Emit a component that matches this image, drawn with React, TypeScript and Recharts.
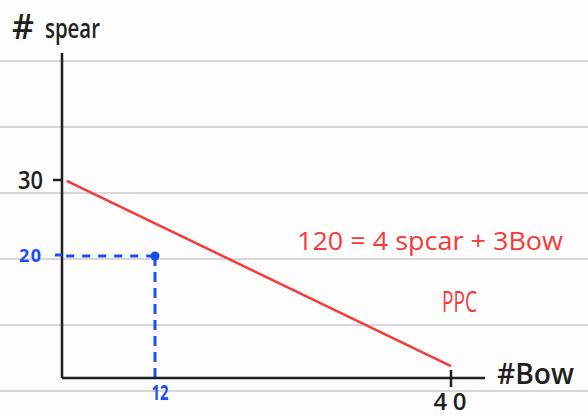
import React from "react";
import { ComposedChart, Line, Scatter, XAxis, YAxis, ReferenceLine } from "recharts";

// PPC endpoints as drawn (hand sketch, axes anchored on the labelled ticks)
const ppcLine = [
  { x: 3.65, y: 29.9 },
  { x: 40, y: 5.5 },
];
const chosenPoint = [{ x: 12, y: 20 }];
const xTicks = [12, 40];
const yTicks = [20, 30];
const xDomain: [number, number] = [3.203, 43.217];
const yDomain: [number, number] = [3.947, 46.71];
const paperLines = [61, 127, 193, 259, 325, 391];

const RED = "#f63a3a";
const BLUE = "#1c4ff0";
const INK = "#1f1f1f";
const FONT = "'Open Sans', 'DejaVu Sans', sans-serif";

const XTick = (props: any) => {
  const { x, y, payload } = props;
  if (payload.value === 12) {
    return (
      <text x={x + 5} y={y + 22} textAnchor="middle" fill={BLUE} fontFamily={FONT} fontSize={21} fontWeight={700} textLength={17} lengthAdjust="spacingAndGlyphs">
        12
      </text>
    );
  }
  return (
    <g>
      <line x1={x} y1={y - 8} x2={x} y2={y + 9} stroke={INK} strokeWidth={2.5} />
      <text x={x - 1} y={y + 32} textAnchor="middle" fill={INK} fontFamily={FONT} fontSize={24} fontWeight={600} textLength={33} lengthAdjust="spacing">
        40
      </text>
    </g>
  );
};

const YTick = (props: any) => {
  const { x, y, payload } = props;
  if (payload.value === 20) {
    return (
      <g>
        <line x1={x - 7} y1={y - 1} x2={x} y2={y - 1} stroke={BLUE} strokeWidth={3} />
        <text x={x - 21} y={y + 6} textAnchor="end" fill={BLUE} fontFamily={FONT} fontSize={18} fontWeight={700} textLength={22} lengthAdjust="spacing">
          20
        </text>
      </g>
    );
  }
  return (
    <g>
      <line x1={x - 9} y1={y} x2={x} y2={y} stroke={INK} strokeWidth={2.5} />
      <text x={x - 19} y={y + 9} textAnchor="end" fill={INK} fontFamily={FONT} fontSize={25} fontWeight={600} textLength={25} lengthAdjust="spacingAndGlyphs">
        30
      </text>
    </g>
  );
};

export default function App() {
  return (
    <div style={{ position: "absolute", left: 0, top: 0, width: 588, height: 416, background: "#fdfdfd", overflow: "hidden" }}>
      <svg width={588} height={416} style={{ position: "absolute", left: 0, top: 0 }}>
        {paperLines.map((py) => (
          <line key={py} x1={0} x2={588} y1={py} y2={py} stroke="#d8d8d8" strokeWidth={2} />
        ))}
      </svg>
      <div style={{ position: "absolute", left: 0, top: 0 }}>
        <ComposedChart width={588} height={416} margin={{ top: 53, right: 103, bottom: 37, left: 61 }}>
          <XAxis
            type="number"
            dataKey="x"
            domain={xDomain}
            ticks={xTicks}
            allowDataOverflow
            height={1}
            tickSize={0}
            tickMargin={0}
            tickLine={false}
            axisLine={{ stroke: INK, strokeWidth: 2.5 }}
            tick={<XTick />}
            interval={0}
          />
          <YAxis
            type="number"
            dataKey="y"
            domain={yDomain}
            ticks={yTicks}
            allowDataOverflow
            width={1}
            tickSize={0}
            tickMargin={0}
            tickLine={false}
            axisLine={{ stroke: INK, strokeWidth: 2.5 }}
            tick={<YTick />}
            interval={0}
          />
          <ReferenceLine
            segment={[{ x: 3.6, y: 20 }, { x: 12, y: 20 }]}
            stroke={BLUE}
            strokeWidth={3}
            strokeDasharray="8 8"
          />
          <ReferenceLine
            segment={[{ x: 12, y: 20 }, { x: 12, y: yDomain[0] }]}
            stroke={BLUE}
            strokeWidth={3}
            strokeDasharray="10 6"
          />
          <Line
            data={ppcLine}
            dataKey="y"
            type="linear"
            stroke={RED}
            strokeWidth={2.5}
            dot={false}
            isAnimationActive={false}
          />
          <Scatter data={chosenPoint} dataKey="y" fill={BLUE} shape="circle" isAnimationActive={false} />
        </ComposedChart>
      </div>
      <svg width={588} height={416} style={{ position: "absolute", left: 0, top: 0, pointerEvents: "none" }}>
        <text x={12} y={39} fill={INK} fontFamily={FONT} fontSize={34} fontWeight={600}>#</text>
        <text x={45} y={38} fill={INK} fontFamily={FONT} fontSize={27} fontWeight={600} textLength={55} lengthAdjust="spacingAndGlyphs">spear</text>
        <text x={497} y={384} fill={INK} fontFamily={FONT} fontSize={28} fontWeight={600} textLength={77} lengthAdjust="spacingAndGlyphs">#Bow</text>
        <text x={297} y={250} fill={RED} fontFamily={FONT} fontSize={26} fontWeight={500} textLength={266} lengthAdjust="spacingAndGlyphs">120 = 4 spcar + 3Bow</text>
        <text x={442} y={312} fill={RED} fontFamily={FONT} fontSize={29} fontWeight={500} textLength={35} lengthAdjust="spacingAndGlyphs">PPC</text>
      </svg>
    </div>
  );
}
